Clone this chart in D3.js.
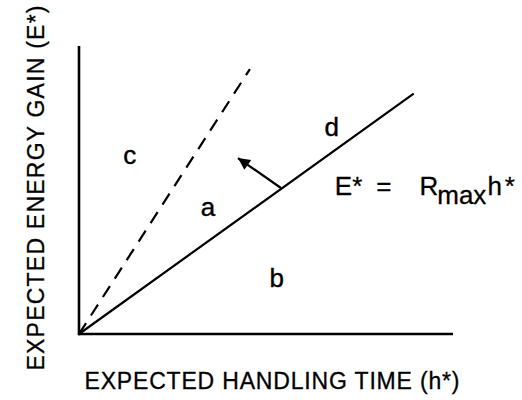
<!DOCTYPE html>
<html>
<head>
<meta charset="utf-8">
<script src="https://cdn.jsdelivr.net/npm/d3@7"></script>
<style>
  html, body { margin: 0; padding: 0; background: #fff; }
  svg text { font-family: "Liberation Sans", Arial, sans-serif; fill: #000; }
</style>
</head>
<body>
<svg id="chart" width="522" height="400"></svg>
<script>
// Axis extents (arbitrary units)
const xDomain = [0, 100];
const yDomain = [0, 100];

// Rate-maximising boundary E* = Rmax h* and a steeper alternative
const solidLine = [[0, 0], [89.3, 83.3]];
const dashedLine = [[0, 0], [45.7, 92.0]];

// Arrow normal to the boundary
const arrowFrom = [54.0, 50.7];
const arrowTo = [42.5, 61.1];

// Region labels
const regionLabels = ["c", "a", "b", "d"];
const regionX = [13.6, 34.5, 52.9, 67.6];
const regionY = [62.2, 44.1, 19.4, 71.9];

// Equation anchor
const eqPos = [68.4, 48.3];

const xTitle = "EXPECTED HANDLING TIME (h*)";
const yTitle = "EXPECTED ENERGY GAIN (E*)";

const svg = d3.select("#chart");
const x = d3.scaleLinear().domain(xDomain).range([79, 453]);
const y = d3.scaleLinear().domain(yDomain).range([334, 46]);

// Axes drawn as plain lines (no ticks)
svg.append("line")
  .attr("x1", x(0)).attr("y1", y(0)).attr("x2", x(xDomain[1])).attr("y2", y(0))
  .attr("stroke", "#000").attr("stroke-width", 2.6);
svg.append("line")
  .attr("x1", x(0)).attr("y1", y(0) + 1.3).attr("x2", x(0)).attr("y2", y(yDomain[1]))
  .attr("stroke", "#000").attr("stroke-width", 2.6);

const line = d3.line().x(d => x(d[0])).y(d => y(d[1]));

svg.append("path").datum(solidLine)
  .attr("d", line).attr("fill", "none")
  .attr("stroke", "#000").attr("stroke-width", 2.2).attr("stroke-linecap", "round");

svg.append("path").datum(dashedLine)
  .attr("d", line).attr("fill", "none")
  .attr("stroke", "#000").attr("stroke-width", 2.2)
  .attr("stroke-dasharray", "13,9");

// Arrow
svg.append("defs").append("marker")
  .attr("id", "head")
  .attr("viewBox", "0 0 10 10")
  .attr("refX", 10).attr("refY", 5)
  .attr("markerUnits", "userSpaceOnUse")
  .attr("markerWidth", 17).attr("markerHeight", 12)
  .attr("orient", "auto")
  .append("path").attr("d", "M0,0 L10,5 L0,10 Z").attr("fill", "#000");

svg.append("line")
  .attr("x1", x(arrowFrom[0])).attr("y1", y(arrowFrom[1]))
  .attr("x2", x(arrowTo[0])).attr("y2", y(arrowTo[1]))
  .attr("stroke", "#000").attr("stroke-width", 2.2)
  .attr("marker-end", "url(#head)");

// Region letters
svg.selectAll("text.region")
  .data(regionLabels)
  .join("text")
  .attr("class", "region")
  .attr("x", (d, i) => x(regionX[i]))
  .attr("y", (d, i) => y(regionY[i]))
  .attr("text-anchor", "middle")
  .attr("dominant-baseline", "central")
  .attr("font-size", 26)
  .attr("stroke", "#000").attr("stroke-width", 0.4)
  .text(d => d);

// Equation E* = Rmax h*
const eq = svg.append("text")
  .attr("x", x(eqPos[0])).attr("y", y(eqPos[1]))
  .attr("font-size", 26)
  .attr("stroke", "#000").attr("stroke-width", 0.3);
eq.append("tspan").text("E*");
eq.append("tspan").attr("dx", 14).text("=");
eq.append("tspan").attr("dx", 28).text("R");
eq.append("tspan").attr("dy", 9).attr("dx", -1).text("max");
eq.append("tspan").attr("dy", -9).attr("dx", 1).text("h");
eq.append("tspan").attr("dx", 3).text("*");

// Axis titles
svg.append("text")
  .attr("x", 272).attr("y", 389)
  .attr("text-anchor", "middle")
  .attr("font-size", 23)
  .attr("stroke", "#000").attr("stroke-width", 0.3)
  .attr("textLength", 375).attr("lengthAdjust", "spacing")
  .text(xTitle);

svg.append("text")
  .attr("transform", "translate(44,188) rotate(-90)")
  .attr("text-anchor", "middle")
  .attr("font-size", 23)
  .attr("stroke", "#000").attr("stroke-width", 0.3)
  .attr("textLength", 365).attr("lengthAdjust", "spacing")
  .text(yTitle);
</script>
</body>
</html>
